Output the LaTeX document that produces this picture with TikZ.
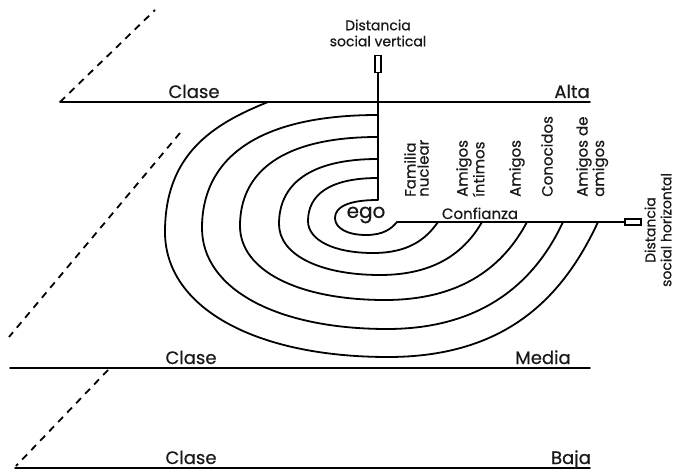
\documentclass[tikz,border=0pt]{standalone}
\usepackage{fontspec}
\setmainfont{Poppins}[FakeBold=0.6]
% one turn of the spiral: #1 start x, #2 top y, #3 left x, #4 middle y,
% #5 bottom x, #6 bottom y, #7 end x on the trust axis, #8 end angle
\newcommand\spiralturn[8]{%
  \draw[arm] (#1,#2)
    .. controls ({#1-0.7*(#1-#3)},#2) and (#3,{#4-0.6*(#4-#2)}) .. (#3,#4)
    .. controls (#3,{#4+0.6*(#6-#4)}) and ({#5-0.6*(#5-#3)},#6) .. (#5,#6)
    .. controls ({#5+0.55*(#7-#5)},#6)
       and ({#7-0.55*(#6-222)*cos(#8)/sin(#8)},{222+0.55*(#6-222)}) .. (#7,222);}
\begin{document}
\begin{tikzpicture}[x=1pt,y=-1pt,
  rule/.style={line width=1.8pt, line cap=round},
  arm/.style={line width=1.8pt},
  guide/.style={line width=1.8pt, dash pattern=on 7pt off 6pt},
  marker/.style={draw, line width=1.4pt, inner sep=0pt, fill=white},
  classlbl/.style={font=\fontsize{18}{20}\selectfont, anchor=base, inner sep=0pt, text=black!90},
  smalllbl/.style={font=\fontsize{14}{16}\selectfont, align=center, inner sep=0pt, text=black!90},
  ringlbl/.style={font=\fontsize{15}{13}\selectfont, align=left, rotate=90, anchor=north west, inner sep=0pt, text=black!90}]
\useasboundingbox (0,0) rectangle (678,473);

% social class levels
\draw[rule] (60,102) -- (590,102);
\draw[rule] (10,368) -- (590,368);
\draw[rule] (15,468) -- (590,468);
\node[classlbl] (altaA) at (194,98) {Clase};
\node[classlbl] (altaB) at (572,98) {Alta};
\node[classlbl] (mediaA) at (191,364) {Clase};
\node[classlbl] (mediaB) at (543,364) {Media};
\node[classlbl] (bajaA) at (191,464) {Clase};
\node[classlbl] (bajaB) at (571,464) {Baja};

% dashed guides
\draw[guide] (60,102) -- (155,10);
\draw[guide] (180,133) -- (9,337);
\draw[guide] (108,370) -- (16,466);

% vertical social distance axis
\node[smalllbl] (vlabel) at (378,33) {Distancia\\social vertical};
\node[marker, minimum width=6pt, minimum height=17pt] (vmark) at (378,64) {};
\coordinate (vend) at (378,200);
\draw[rule] (vmark.south) -- (vend);

% horizontal social distance axis
\node[marker, minimum width=16pt, minimum height=6pt] (hmark) at (633,222) {};
\coordinate (hstart) at (397,222);
\draw[rule] (hstart) -- (hmark.west);
\node[smalllbl, rotate=90] (hlabel) at (658,230) {Distancia\\social horizontal};
\node[font=\fontsize{15}{16}\selectfont, anchor=base, inner sep=0pt, text=black!90] (trust) at (480,219) {Confianza};

% spiral of relations around ego
\node[font=\fontsize{20}{22}\selectfont, inner sep=0pt, text=black!90] (ego) at (366,215) {ego};
\spiralturn{378}{200}{335}{218}{366}{235}{397}{50}
\spiralturn{378}{178}{308}{221}{373}{253}{438}{55}
\spiralturn{378}{159}{279}{224}{380}{275}{482}{60}
\spiralturn{378}{137}{240}{226}{385}{300}{527}{62}
\spiralturn{378}{115}{202}{228}{387}{329}{563}{65}
\draw[arm] (268,102) .. controls (213,124) and (165,154) .. (165,232)
  .. controls (165,307) and (254,357) .. (388,357)
  .. controls (507,357) and (563.4,296.3) .. (598,222);

% ring labels
\node[ringlbl] (r1) at (404,197) {Familia\\nuclear};
\node[ringlbl] (r2) at (456,197) {Amigos\\íntimos};
\node[ringlbl] (r3) at (509,197) {Amigos};
\node[ringlbl] (r4) at (541,197) {Conocidos};
\node[ringlbl] (r5) at (576,197) {Amigos de\\amigos};
\end{tikzpicture}
\end{document}
